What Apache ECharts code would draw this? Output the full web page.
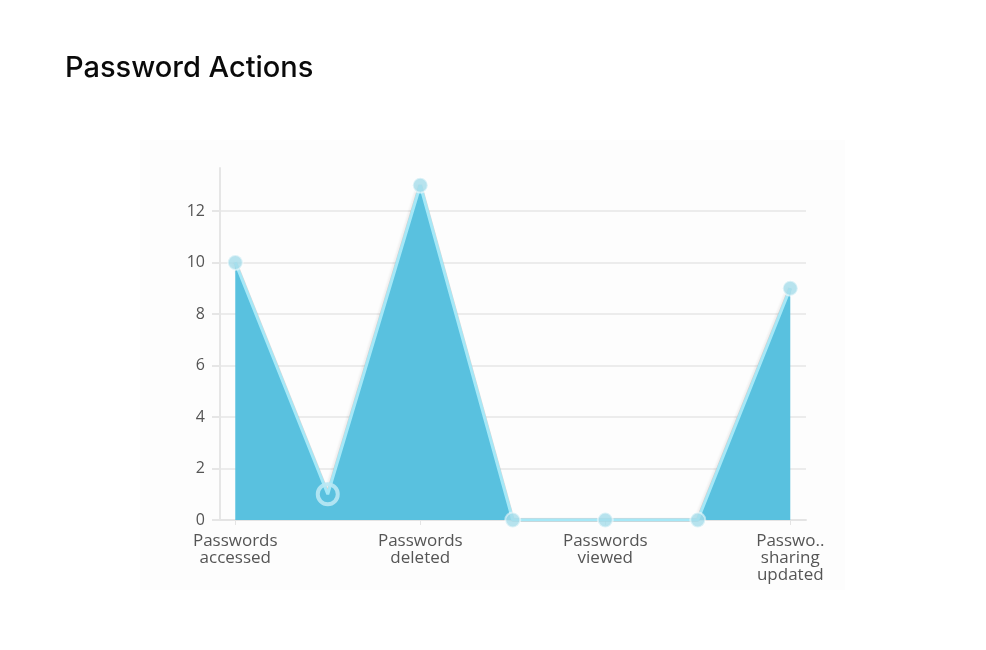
<!DOCTYPE html>
<html lang="en">
<head>
    <meta charset="UTF-8">
    <title>Password Actions</title>
    <script src="https://cdn.jsdelivr.net/npm/echarts@6/dist/echarts.min.js"></script>
    <style>
        html, body { margin: 0; padding: 0; background: #fff; }
        #main { width: 986px; height: 650px; }
    </style>
</head>
<body>
<div id="main"></div>
<script type="text/javascript">
    // chart data
    var categories = ['Passwords accessed', 'Passwords added', 'Passwords deleted', 'Passwords shared',
        'Passwords viewed', 'Passwords modified', 'Password sharing updated'];
    var counts = [10, 1, 13, 0, 0, 0, 9];
    var yTicks = [0, 2, 4, 6, 8, 10, 12];
    var xTickIndex = [0, 2, 4, 6];
    var xTickLabels = ['Passwords\naccessed', 'Passwords\ndeleted', 'Passwords\nviewed', 'Passwo..\nsharing\nupdated'];
    var hoveredIndex = 1;

    var labelFont = '"Open Sans", "Noto Sans", sans-serif';

    var points = counts.map(function (v, i) {
        return [i, v];
    });
    var seriesData = counts.map(function (v, i) {
        var item = {name: categories[i], value: [i, v]};
        if (i === hoveredIndex) {
            // point under the mouse is drawn as a ring
            item.symbolSize = 20;
            item.itemStyle = {
                color: 'rgba(255,255,255,0)',
                borderColor: 'rgba(185,232,244,0.9)',
                borderWidth: 4
            };
        }
        return item;
    });

    var myChart = echarts.init(document.getElementById('main'));
    myChart.setOption({
        animation: false,
        title: {
            text: 'Password Actions',
            left: 60,
            top: 49,
            textStyle: {
                fontFamily: 'Inter, "Noto Sans", sans-serif',
                fontSize: 29,
                fontWeight: 500,
                color: '#0a0a0a'
            }
        },
        graphic: [{
            type: 'rect',
            z: -10,
            shape: {x: 140, y: 140, width: 705, height: 450},
            style: {fill: '#fdfdfd'}
        }],
        grid: {
            left: 220,
            right: 180,
            top: 168,
            bottom: 130
        },
        xAxis: {
            type: 'value',
            min: -0.165,
            max: 6.17,
            axisLine: {show: true, lineStyle: {color: '#e4e4e4', width: 2}},
            axisTick: {
                show: true,
                length: 5,
                customValues: xTickIndex,
                lineStyle: {color: '#e4e4e4', width: 1}
            },
            splitLine: {show: false},
            axisLabel: {
                customValues: xTickIndex,
                margin: 13,
                fontFamily: labelFont,
                fontSize: 17,
                lineHeight: 17,
                color: '#555',
                formatter: function (v) {
                    var k = xTickIndex.indexOf(Math.round(v));
                    return k >= 0 ? xTickLabels[k] : '';
                }
            }
        },
        yAxis: {
            type: 'value',
            min: 0,
            max: 13.67,
            axisLine: {show: true, onZero: false, lineStyle: {color: '#e6e6e6', width: 2}},
            axisTick: {
                show: true,
                length: 8,
                customValues: yTicks,
                lineStyle: {color: '#e6e6e6', width: 2}
            },
            splitLine: {show: true, lineStyle: {color: '#ececec', width: 2}},
            axisLabel: {
                customValues: yTicks,
                margin: 15,
                fontFamily: labelFont,
                fontSize: 16,
                color: '#555'
            }
        },
        series: [
            {
                // soft grey shadow behind the line, hidden under the fill
                name: 'shadow',
                type: 'line',
                z: 1,
                data: points,
                symbol: 'none',
                silent: true,
                lineStyle: {
                    color: 'rgba(170,170,170,0.45)',
                    width: 4,
                    shadowColor: 'rgba(0,0,0,0.12)',
                    shadowBlur: 2,
                    shadowOffsetX: -2
                }
            },
            {
                name: 'Password Actions',
                type: 'line',
                z: 2,
                data: seriesData,
                symbol: 'circle',
                symbolSize: 15,
                itemStyle: {
                    color: 'rgba(165,220,234,0.8)',
                    borderColor: 'rgba(255,255,255,0.5)',
                    borderWidth: 2
                },
                lineStyle: {
                    color: '#a6e8f7',
                    width: 3
                },
                areaStyle: {
                    color: '#59c1df',
                    opacity: 1
                }
            }
        ]
    });
</script>
</body>
</html>
